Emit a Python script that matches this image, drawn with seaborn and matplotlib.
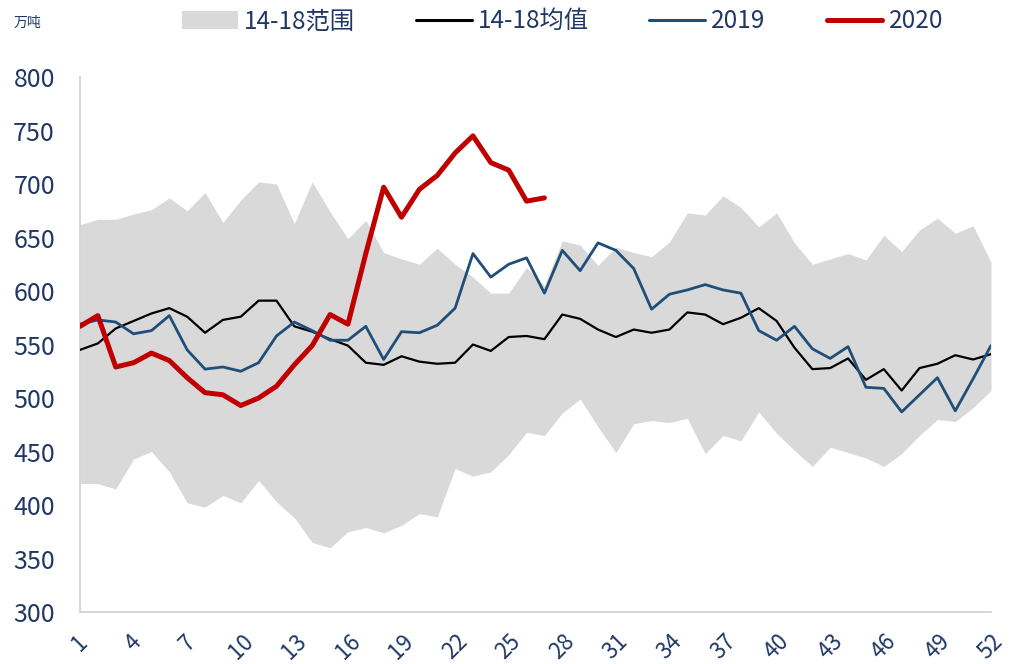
import numpy as np
import pandas as pd
import matplotlib
matplotlib.use('Agg')
import matplotlib.pyplot as plt
from matplotlib.patches import Patch
from matplotlib.lines import Line2D
import seaborn as sns

# Semanas 1..52
weeks = list(range(1, 53))

# Rango 2014-2018 (mínimo y máximo)
band_low = [420, 420, 415, 443, 450, 431, 402, 398, 409, 402, 423, 403, 388,
            365, 360, 375, 379, 374, 381, 392, 389, 434, 427, 431, 447, 468,
            465, 486, 499, 473, 449, 476, 479, 477, 481, 448, 465, 460, 487,
            467, 451, 436, 454, 449, 444, 436, 448, 465, 480, 478, 491, 507]
band_high = [662, 667, 667, 672, 676, 687, 675, 692, 664, 685, 702, 700, 663,
             702, 674, 649, 666, 636, 630, 625, 640, 625, 613, 598, 598, 622,
             605, 647, 643, 624, 641, 636, 632, 646, 673, 671, 689, 678, 660,
             673, 645, 625, 630, 635, 629, 652, 637, 657, 668, 654, 661, 627]

# Media 2014-2018
mean_14_18 = [545, 551, 565, 572, 579, 584, 576, 561, 573, 576, 591, 591, 567,
              562, 555, 549, 533, 531, 539, 534, 532, 533, 550, 544, 557, 558,
              555, 578, 574, 564, 557, 564, 561, 564, 580, 578, 569, 575, 584,
              572, 547, 527, 528, 537, 517, 527, 507, 528, 532, 540, 536, 541]

# 2019
y2019 = [569, 573, 571, 560, 563, 577, 545, 527, 529, 525, 533, 558, 571,
         563, 554, 554, 567, 536, 562, 561, 568, 584, 635, 613, 625, 631,
         598, 638, 619, 645, 638, 621, 583, 597, 601, 606, 601, 598, 563,
         554, 567, 546, 537, 548, 510, 509, 487, 503, 519, 488, 518, 549]

# 2020 (hasta la semana 27)
y2020 = [567, 577, 529, 533, 542, 535, 519, 505, 503, 493, 500, 511, 531,
         549, 578, 569, 635, 697, 669, 695, 708, 729, 745, 720, 713, 684, 687]

labels = ['14-18范围', '14-18均值', '2019', '2020']
colors = {'14-18均值': '#000000', '2019': '#1F4E79', '2020': '#C00000'}
widths = {'14-18均值': 1.6, '2019': 2.0, '2020': 3.6}
text_color = '#1F3864'

df = pd.concat([
    pd.DataFrame({'week': weeks, 'value': mean_14_18, 'serie': '14-18均值'}),
    pd.DataFrame({'week': weeks, 'value': y2019, 'serie': '2019'}),
    pd.DataFrame({'week': weeks[:len(y2020)], 'value': y2020, 'serie': '2020'}),
])

sns.set_style('white')
plt.rcParams['font.family'] = ['Noto Sans CJK SC', 'DejaVu Sans']

fig = plt.figure(figsize=(10.19, 6.64), dpi=100)
ax = fig.add_axes([0.0785, 0.0783, 0.894, 0.8057])

ax.fill_between(weeks, band_low, band_high, color='#D9D9D9', lw=0, zorder=1)
for serie in ['14-18均值', '2019', '2020']:
    sns.lineplot(data=df[df['serie'] == serie], x='week', y='value',
                 color=colors[serie], lw=widths[serie], ax=ax, zorder=3,
                 legend=False)

ax.set_xlim(1, 52)
ax.set_ylim(300, 800)
ax.set_xticks(list(range(1, 53, 3)))
ax.set_yticks(list(range(300, 801, 50)))
ax.tick_params(axis='x', labelsize=16, labelcolor=text_color, rotation=45,
               length=6, color='#D0D0D0', direction='out', pad=7)
ax.tick_params(axis='y', labelsize=18, labelcolor=text_color,
               length=6, color='#D0D0D0', direction='out', pad=12)
for lab in ax.get_xticklabels():
    lab.set_ha('center')
    lab.set_va('top')
ax.set_xlabel('')
ax.set_ylabel('')
for side in ['top', 'right']:
    ax.spines[side].set_visible(False)
for side in ['left', 'bottom']:
    ax.spines[side].set_color('#D0D0D0')
    ax.spines[side].set_linewidth(1.2)

handles = [Patch(facecolor='#D9D9D9', edgecolor='none'),
           Line2D([], [], color=colors['14-18均值'], lw=2.2),
           Line2D([], [], color=colors['2019'], lw=2.2),
           Line2D([], [], color=colors['2020'], lw=3.6)]
leg = fig.legend(handles, labels, loc='center', bbox_to_anchor=(0.552, 0.968),
                 ncol=4, frameon=False, fontsize=17.5, handlelength=2.3,
                 handleheight=0.75, handletextpad=0.25, columnspacing=2.5)
for t in leg.get_texts():
    t.set_color(text_color)

fig.text(0.013, 0.966, '万吨', fontsize=10, color=text_color,
         va='center', ha='left')

fig.savefig('out.png', dpi=100)
